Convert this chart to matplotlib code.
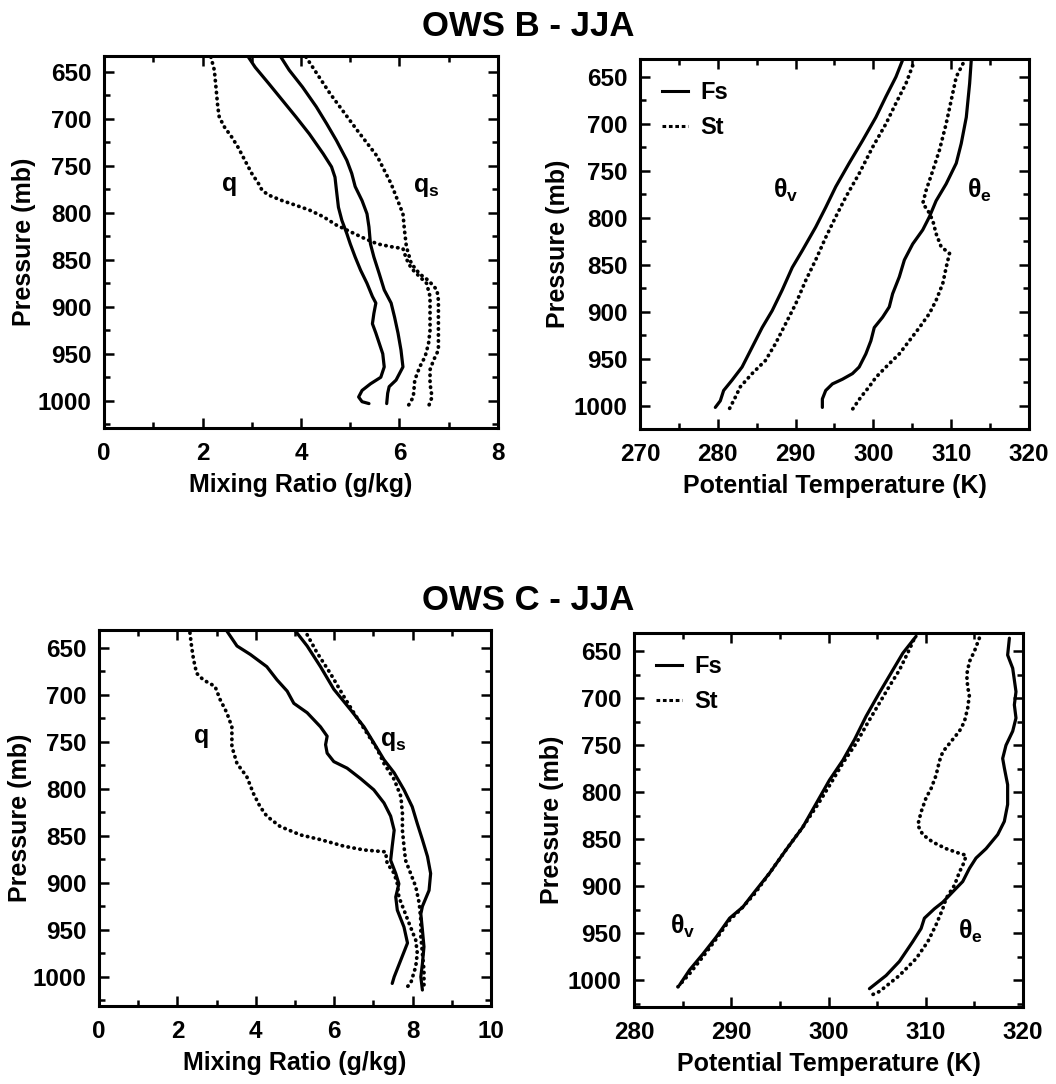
import matplotlib
matplotlib.use("Agg")
import matplotlib.pyplot as plt
from matplotlib.lines import Line2D
from matplotlib.ticker import MultipleLocator

plt.rcParams['font.family'] = ['Liberation Sans', 'DejaVu Sans']
plt.rcParams['font.weight'] = 'bold'
plt.rcParams['axes.labelweight'] = 'bold'
plt.rcParams['mathtext.fontset'] = 'custom'
plt.rcParams['mathtext.rm'] = 'Liberation Sans:bold'
plt.rcParams['mathtext.it'] = 'Liberation Sans:bold'
plt.rcParams['mathtext.bf'] = 'Liberation Sans:bold'

# ---- OWS B, mixing ratio (g/kg) vs pressure (mb)
b_fs_q = [2.93, 3.07, 3.34, 3.62, 3.90, 4.17, 4.45, 4.62, 4.69, 4.72, 4.76, 4.83, 4.93, 5.00, 5.10, 5.21,
          5.34, 5.45, 5.52, 5.48, 5.45, 5.52, 5.59, 5.66, 5.69, 5.62, 5.41, 5.24, 5.17, 5.24, 5.38]
b_fs_q_p = [634, 645, 662, 680, 698, 716, 737, 751, 762, 776, 794, 808, 822, 833, 847, 861,
            875, 889, 896, 907, 918, 928, 939, 950, 964, 975, 982, 989, 996, 1001, 1003]
b_fs_qs = [3.59, 3.76, 4.03, 4.31, 4.52, 4.72, 4.93, 5.03, 5.10, 5.24, 5.34, 5.38, 5.41, 5.48, 5.59, 5.69,
           5.83, 5.90, 5.97, 6.03, 6.07, 5.93, 5.79, 5.76, 5.74]
b_fs_qs_p = [634, 648, 666, 687, 705, 723, 744, 758, 772, 787, 801, 815, 833, 847, 865, 882,
             896, 911, 928, 946, 964, 978, 985, 992, 1003]
b_st_q = [2.17, 2.24, 2.28, 2.31, 2.34, 2.45, 2.59, 2.72, 2.86, 3.00, 3.14, 3.21, 3.34, 3.62, 3.90, 4.17,
          4.45, 4.72, 5.00, 5.28, 5.55, 5.83, 6.07, 6.14, 6.24, 6.41, 6.55, 6.62, 6.62, 6.62, 6.59, 6.52,
          6.41, 6.31, 6.28, 6.17]
b_st_q_p = [634, 648, 670, 687, 698, 709, 719, 730, 744, 758, 769, 776, 781, 787, 792, 797,
            804, 813, 820, 827, 833, 836, 838, 849, 859, 868, 875, 889, 907, 925, 939, 953,
            964, 978, 996, 1006]
b_st_qs = [4.10, 4.59, 5.14, 5.55, 5.83, 6.07, 6.10, 6.14, 6.24, 6.41, 6.59, 6.76, 6.79, 6.79, 6.79, 6.79,
           6.69, 6.62, 6.62, 6.66, 6.59]
b_st_qs_p = [634, 673, 712, 740, 769, 801, 818, 836, 854, 865, 872, 882, 893, 911, 932, 946,
             957, 967, 982, 996, 1006]

# ---- OWS B, potential temperature (K)
b_fs_tv = [303.76, 302.90, 301.61, 300.32, 298.60, 296.88, 295.16, 293.87, 292.58, 290.86, 289.57,
           288.28, 286.99, 285.70, 284.41, 283.12, 281.83, 280.75, 280.32, 279.68]
b_fs_tv_p = [632, 650, 671, 693, 718, 742, 767, 789, 810, 835, 853, 877, 899, 917, 938, 959, 973, 984, 995, 1002]
b_st_tv = [305.05, 304.19, 302.90, 301.61, 299.89, 298.17, 296.45, 295.16, 293.87, 292.58, 291.29,
           290.00, 288.71, 287.42, 286.13, 284.41, 282.90, 282.26, 281.40]
b_st_tv_p = [638, 657, 678, 700, 725, 753, 778, 799, 821, 845, 867, 892, 913, 934, 952, 966, 980, 991, 1005]
b_fs_te = [312.58, 312.37, 311.94, 311.29, 310.65, 309.35, 308.06, 307.20, 306.34, 305.05, 303.98,
           303.33, 302.47, 302.04, 301.18, 300.11, 299.68, 299.03, 298.17, 297.31, 296.02, 294.73,
           293.87, 293.44, 293.44]
b_fs_te_p = [632, 657, 693, 721, 742, 764, 782, 799, 813, 828, 845, 863, 881, 895, 906, 917, 931,
             945, 959, 966, 972, 977, 984, 993, 1002]
b_st_te = [311.51, 310.65, 310.00, 309.35, 308.49, 307.63, 306.77, 306.34, 306.99, 307.63, 308.06,
           308.71, 309.78, 309.35, 308.92, 308.06, 307.20, 305.91, 304.62, 303.33, 301.61, 300.32,
           299.46, 298.39, 297.31]
b_st_te_p = [636, 650, 675, 700, 728, 750, 771, 785, 792, 803, 817, 831, 838, 853, 870, 888, 902,
             917, 931, 945, 959, 970, 980, 991, 1004]

# ---- OWS C, mixing ratio (g/kg)
c_fs_q = [3.26, 3.52, 3.86, 4.28, 4.54, 4.80, 4.97, 5.31, 5.65, 5.82, 5.78, 5.82, 5.99, 6.33, 6.67,
          7.01, 7.27, 7.44, 7.53, 7.48, 7.44, 7.57, 7.65, 7.57, 7.61, 7.78, 7.87, 7.70, 7.53, 7.48]
c_fs_q_p = [632, 648, 657, 670, 684, 696, 709, 719, 734, 744, 753, 762, 771, 778, 789,
            801, 815, 829, 844, 861, 876, 890, 901, 915, 929, 947, 964, 982, 1000, 1007]
c_fs_qs = [5.01, 5.31, 5.65, 5.99, 6.42, 6.76, 7.01, 7.27, 7.53, 7.78, 7.99, 8.12, 8.25, 8.38, 8.46,
           8.42, 8.25, 8.21, 8.25, 8.29, 8.25, 8.21, 8.25]
c_fs_qs_p = [632, 648, 670, 694, 716, 734, 751, 769, 783, 801, 819, 837, 854, 872, 890,
             908, 925, 933, 950, 968, 986, 1000, 1014]
c_st_q = [2.32, 2.36, 2.41, 2.49, 2.66, 2.96, 3.09, 3.26, 3.39, 3.39, 3.52, 3.77, 3.94, 4.11, 4.28,
          4.62, 5.14, 5.65, 6.25, 6.76, 7.31, 7.35, 7.53, 7.61, 7.65, 7.78, 7.91, 8.08, 8.12, 8.08,
          7.95, 7.78]
c_st_q_p = [634, 648, 662, 677, 684, 691, 705, 719, 734, 755, 773, 787, 805, 819, 829,
            840, 849, 854, 861, 865, 867, 879, 890, 901, 915, 929, 943, 961, 975, 989,
            1007, 1014]
c_st_qs = [5.31, 5.56, 5.90, 6.25, 6.50, 6.84, 7.10, 7.27, 7.53, 7.70, 7.74, 7.74, 7.78, 7.82, 7.95,
           8.08, 8.17, 8.21, 8.21, 8.25, 8.29, 8.29]
c_st_qs_p = [636, 655, 677, 702, 719, 741, 758, 773, 790, 808, 826, 844, 861, 876, 890,
             904, 922, 940, 957, 975, 993, 1011]

# ---- OWS C, potential temperature (K)
c_fs_tv = [284.69, 285.72, 287.09, 288.46, 289.83, 291.20, 292.40, 293.94, 295.65, 297.36, 298.73,
           300.10, 301.47, 302.67, 303.87, 305.24, 306.61, 307.64, 309.01]
c_fs_tv_p = [1005, 989, 972, 954, 934, 922, 906, 886, 861, 837, 812, 787, 766, 744, 719, 694, 670, 652, 634]
c_st_tv = [284.52, 285.72, 287.09, 288.46, 289.83, 291.03, 292.40, 293.94, 295.65, 297.36, 298.90,
           300.27, 301.47, 302.84, 304.04, 305.24, 306.27, 307.29, 308.32, 308.84]
c_st_tv_p = [1007, 993, 975, 956, 936, 924, 908, 886, 861, 837, 813, 790, 769, 748, 726, 705, 687,
             670, 648, 636]
c_fs_te = [318.60, 318.42, 318.94, 319.28, 319.11, 319.28, 318.94, 318.25, 317.91, 318.08, 318.42,
           318.42, 318.08, 317.40, 316.20, 315.17, 314.49, 313.80, 312.77, 311.75, 310.89, 309.86,
           309.52, 308.66, 307.29, 305.92, 304.21]
c_fs_te_p = [636, 654, 668, 693, 707, 721, 735, 750, 764, 774, 792, 813, 831, 845, 860, 870, 881,
             895, 906, 917, 924, 934, 945, 959, 980, 995, 1009]
c_st_te = [315.51, 315.00, 314.49, 314.21, 314.32, 314.49, 314.32, 313.97, 313.46, 312.60, 311.75,
           311.40, 311.06, 310.55, 310.03, 309.52, 309.18, 309.69, 310.72, 312.09, 313.46, 314.14,
           313.97, 313.46, 312.95, 312.09, 311.75, 311.06, 310.21, 309.01, 307.29, 305.24, 304.38]
c_st_te_p = [636, 650, 661, 675, 689, 696, 710, 725, 735, 746, 757, 767, 782, 796, 806, 821, 835,
             845, 853, 860, 865, 867, 874, 885, 899, 913, 924, 941, 959, 977, 995, 1012, 1016]

SOLID = dict(color='black', lw=2.3, solid_capstyle='round')
DOTTED = dict(color='black', lw=2.7, linestyle=(0, (0.1, 1.5)), dash_capstyle='round')

fig = plt.figure(figsize=(10.56, 10.84), dpi=100)
W, H = 1056.0, 1084.0


def make_axes(l, r, t, b):
    return fig.add_axes([l / W, 1 - b / H, (r - l) / W, (b - t) / H])


def setup(ax, xlim, ylim, xmaj, xmin, xlabel, ylab_off):
    ax.set_xlim(*xlim)
    ax.set_ylim(*ylim)
    ax.xaxis.set_major_locator(MultipleLocator(xmaj))
    ax.xaxis.set_minor_locator(MultipleLocator(xmin))
    ax.yaxis.set_major_locator(MultipleLocator(50))
    ax.yaxis.set_minor_locator(MultipleLocator(25))
    ax.tick_params(which='both', direction='in', top=True, right=True, width=1.8)
    ax.tick_params(which='major', length=7)
    ax.tick_params(which='minor', length=4)
    ax.tick_params(axis='x', labelsize=17.5, pad=10)
    ax.tick_params(axis='y', labelsize=17.5, pad=9)
    for s in ax.spines.values():
        s.set_linewidth(2.2)
    ax.set_xlabel(xlabel, fontsize=18, labelpad=6)
    ax.set_ylabel('Pressure (mb)', fontsize=18)
    bb = ax.get_position()
    ax.yaxis.set_label_coords(-ylab_off / (bb.width * W), 0.5)


def legend(ax):
    handles = [Line2D([], [], color='black', lw=2.2),
               Line2D([], [], color='black', lw=2.2, linestyle=(0, (1.2, 0.9)))]
    ax.legend(handles, ['Fs', 'St'], loc='upper left', frameon=False, fontsize=17,
              handlelength=1.1, handletextpad=0.5, labelspacing=0.5,
              borderaxespad=0.7, borderpad=0.25)


# OWS B - mixing ratio
ax1 = make_axes(104, 498, 56, 428)
ax1.plot(b_fs_q, b_fs_q_p, **SOLID)
ax1.plot(b_fs_qs, b_fs_qs_p, **SOLID)
ax1.plot(b_st_q, b_st_q_p, **DOTTED)
ax1.plot(b_st_qs, b_st_qs_p, **DOTTED)
ax1.text(2.55, 769, 'q', fontsize=18, ha='center', va='center')
ax1.text(6.55, 772, r'$q_s$', fontsize=18, ha='center', va='center')
setup(ax1, (0, 8), (1029, 633), 2, 1, 'Mixing Ratio (g/kg)', 68)

# OWS B - potential temperature
ax2 = make_axes(640, 1029, 59, 429)
ax2.plot(b_fs_tv, b_fs_tv_p, **SOLID)
ax2.plot(b_st_tv, b_st_tv_p, **DOTTED)
ax2.plot(b_fs_te, b_fs_te_p, **SOLID)
ax2.plot(b_st_te, b_st_te_p, **DOTTED)
ax2.text(288.7, 771, r'$\theta_v$', fontsize=18, ha='center', va='center')
ax2.text(313.6, 771, r'$\theta_e$', fontsize=18, ha='center', va='center')
setup(ax2, (270, 320), (1025, 631), 10, 5, 'Potential Temperature (K)', 70)
legend(ax2)

# OWS C - mixing ratio
ax3 = make_axes(99, 491, 630, 1006)
ax3.plot(c_fs_q, c_fs_q_p, **SOLID)
ax3.plot(c_fs_qs, c_fs_qs_p, **SOLID)
ax3.plot(c_st_q, c_st_q_p, **DOTTED)
ax3.plot(c_st_qs, c_st_qs_p, **DOTTED)
ax3.text(2.62, 744, 'q', fontsize=18, ha='center', va='center')
ax3.text(7.5, 749, r'$q_s$', fontsize=18, ha='center', va='center')
setup(ax3, (0, 10), (1031, 631), 2, 1, 'Mixing Ratio (g/kg)', 67)

# OWS C - potential temperature
ax4 = make_axes(634, 1023, 633, 1007)
ax4.plot(c_fs_tv, c_fs_tv_p, **SOLID)
ax4.plot(c_st_tv, c_st_tv_p, **DOTTED)
ax4.plot(c_fs_te, c_fs_te_p, **SOLID)
ax4.plot(c_st_te, c_st_te_p, **DOTTED)
ax4.text(285.0, 943, r'$\theta_v$', fontsize=18, ha='center', va='center')
ax4.text(314.6, 948, r'$\theta_e$', fontsize=18, ha='center', va='center')
setup(ax4, (280, 320), (1028.5, 630.5), 10, 5, 'Potential Temperature (K)', 70)
legend(ax4)

fig.text(0.5, 1 - 26 / H, 'OWS B - JJA', ha='center', va='center', fontsize=25)
fig.text(0.5, 1 - 600 / H, 'OWS C - JJA', ha='center', va='center', fontsize=25)

fig.savefig('out.png', dpi=100)
